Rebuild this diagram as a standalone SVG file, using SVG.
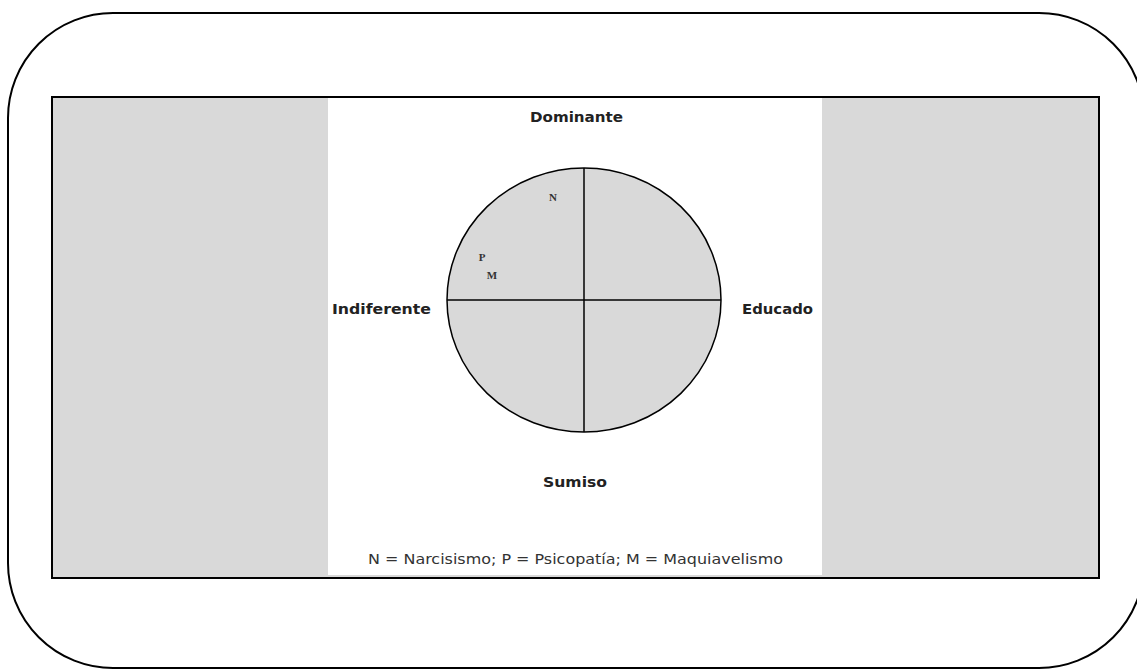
<svg xmlns="http://www.w3.org/2000/svg" width="1137" height="669" viewBox="0 0 1137 669">
<style>
.lab{font-family:"DejaVu Sans",Verdana,sans-serif;font-weight:bold;font-size:14px;fill:#222}
.pt{font-family:"Liberation Serif",serif;font-weight:bold;font-size:11px;fill:#333}
.leg{font-family:"DejaVu Sans",Verdana,sans-serif;font-size:13.5px;fill:#333}
</style>
<rect x="8" y="13" width="1136" height="655" rx="105" ry="105" fill="#fff" stroke="#000" stroke-width="2"/>
<rect x="52" y="97" width="1047" height="481" fill="#d9d9d9" stroke="#000" stroke-width="2"/>
<rect x="328" y="98" width="494" height="477" fill="#fff"/>
<g id="circle">
<ellipse cx="584" cy="300" rx="137" ry="132" fill="#d9d9d9" stroke="#000" stroke-width="1.5"/>
</g>
<g id="connectors">
<line x1="584" y1="168" x2="584" y2="432" stroke="#000" stroke-width="1.5"/>
<line x1="447" y1="300" x2="721" y2="300" stroke="#000" stroke-width="1.5"/>
</g>
<g id="dominante"><text class="lab" x="530" y="122" textLength="93" lengthAdjust="spacingAndGlyphs">Dominante</text></g>
<g id="indiferente"><text class="lab" x="332" y="314" textLength="99" lengthAdjust="spacingAndGlyphs">Indiferente</text></g>
<g id="educado"><text class="lab" x="742" y="314" textLength="71" lengthAdjust="spacingAndGlyphs">Educado</text></g>
<g id="sumiso"><text class="lab" x="543" y="487" textLength="64" lengthAdjust="spacingAndGlyphs">Sumiso</text></g>
<g id="n"><text class="pt" x="553" y="201" text-anchor="middle">N</text></g>
<g id="p"><text class="pt" x="482" y="261" text-anchor="middle">P</text></g>
<g id="m"><text class="pt" x="492" y="279" text-anchor="middle">M</text></g>
<g id="legend"><text class="leg" x="368" y="564" textLength="415" lengthAdjust="spacingAndGlyphs">N = Narcisismo; P = Psicopatía; M = Maquiavelismo</text></g>
</svg>
